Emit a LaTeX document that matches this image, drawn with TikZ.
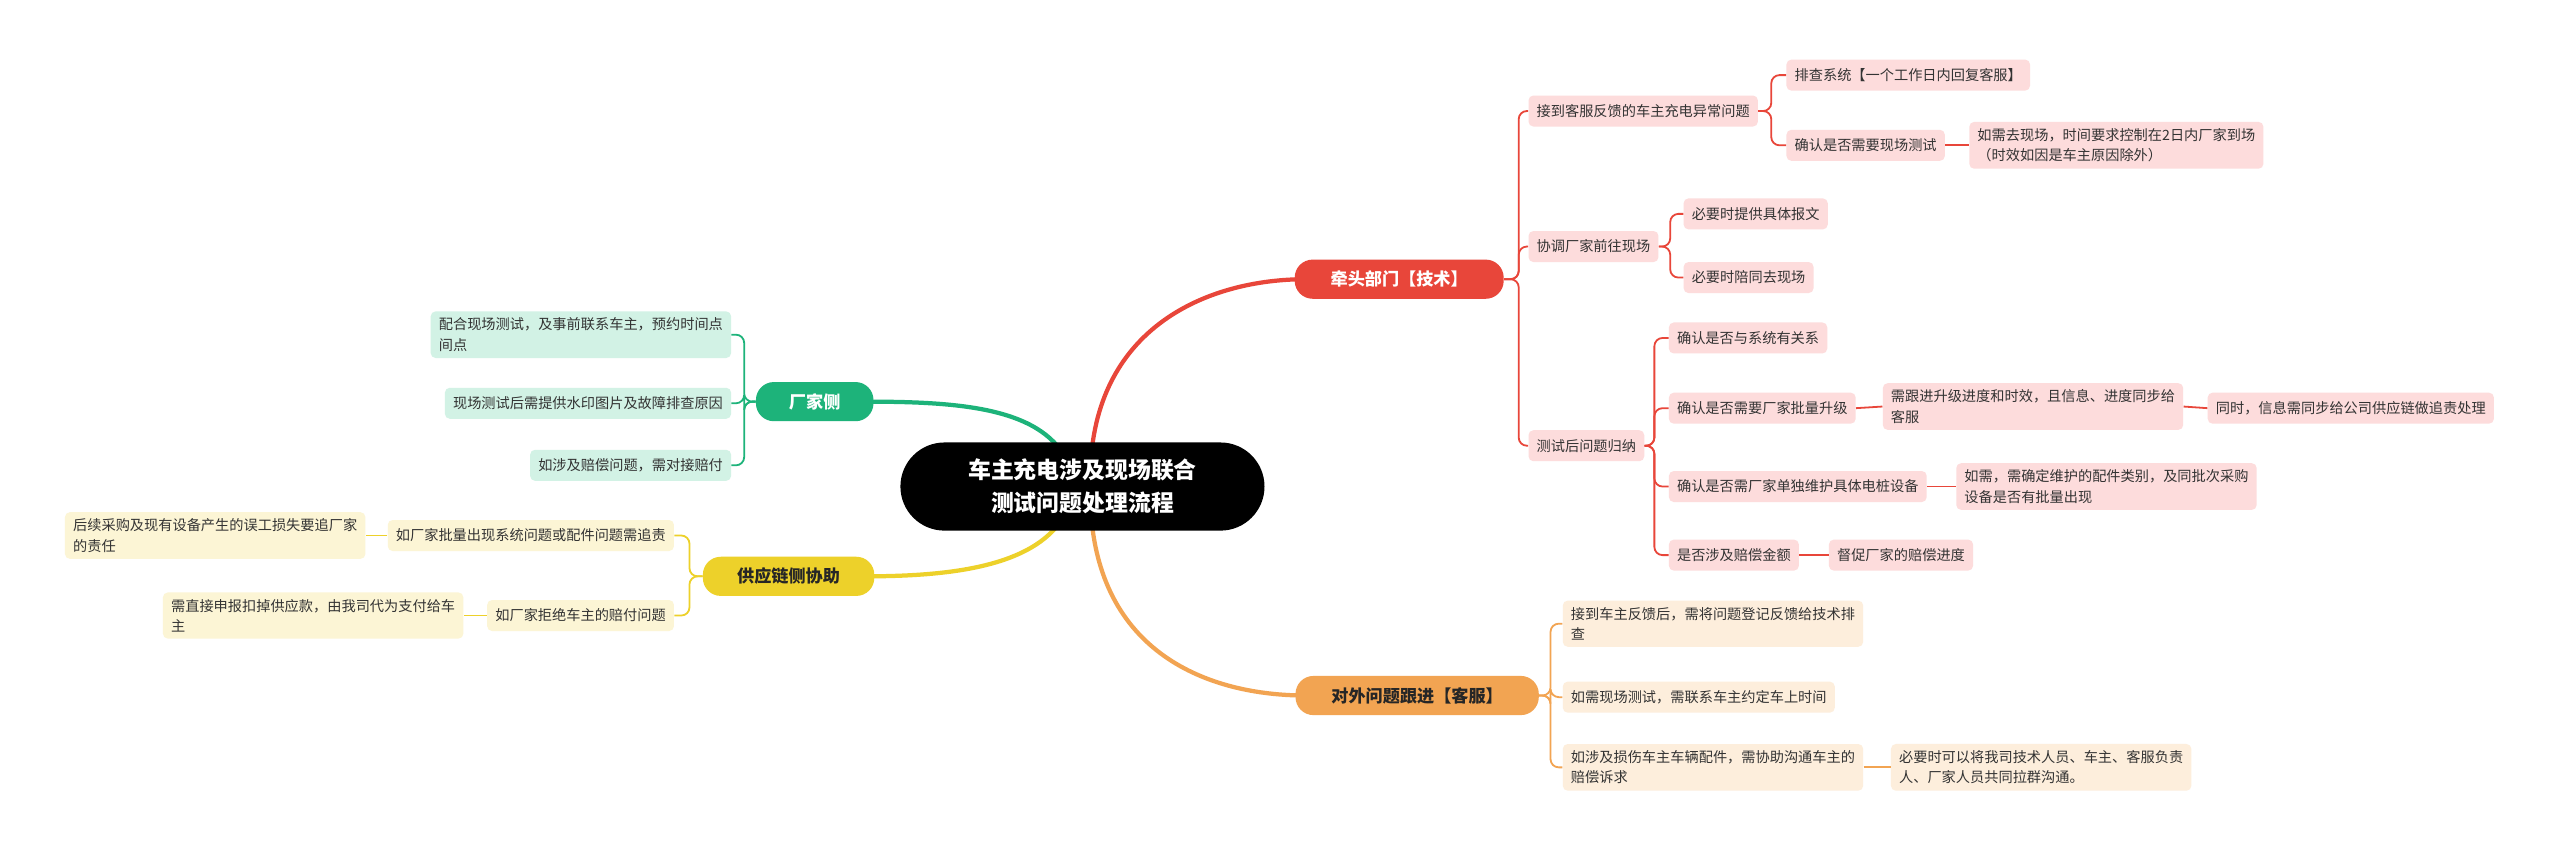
\documentclass[tikz,border=0pt]{standalone}
\usepackage{fontspec}
\setmainfont{Noto Sans CJK SC}
\begin{document}
\begin{tikzpicture}[x=1pt,y=-1pt,
 leaf/.style={rounded corners=3pt,inner xsep=5pt,inner ysep=4pt,minimum height=19pt,font=\fontsize{8.7}{12.5}\selectfont,text=black!80,align=left},
 rleaf/.style={leaf,fill=pr},
 oleaf/.style={leaf,fill=po},
 gleaf/.style={leaf,fill=pg},
 yleaf/.style={leaf,fill=py},
 main/.style={rounded corners=11pt,minimum height=24pt,inner xsep=12pt,font=\fontsize{10.5}{12}\bfseries\selectfont},
 rl/.style={draw=cr,line width=1.1pt,rounded corners=5pt},
 ol/.style={draw=co,line width=1.1pt,rounded corners=5pt},
 gl/.style={draw=cg,line width=1.1pt,rounded corners=5pt},
 yl/.style={draw=cy,line width=1.1pt,rounded corners=5pt}]
\definecolor{cr}{HTML}{E8463A}
\definecolor{co}{HTML}{F2A452}
\definecolor{cg}{HTML}{1DB37A}
\definecolor{cy}{HTML}{EDD12A}
\definecolor{pr}{HTML}{FDDCDC}
\definecolor{po}{HTML}{FDEEDC}
\definecolor{pg}{HTML}{D2F2E5}
\definecolor{py}{HTML}{FCF5D5}
\useasboundingbox[fill=white] (0,0) rectangle (1568,522.4);
% main connectors
\draw[cr,line width=2.6pt] (668,285) .. controls (672,200) and (740,171) .. (800,171);
\draw[cg,line width=2.6pt] (655,285) .. controls (640,250) and (590,246) .. (530,246);
\draw[cy,line width=2.6pt] (655,310) .. controls (640,345) and (590,353) .. (530,353);
\draw[co,line width=2.6pt] (668,310) .. controls (672,400) and (740,426) .. (800,426);
\node[fill=black,text=white,rounded corners=27pt,minimum width=223pt,minimum height=54pt,align=center,font=\fontsize{14}{20}\bfseries\selectfont] (root) at (663,298) {车主充电涉及现场联合\\测试问题处理流程};
\node[main,fill=cr,text=white,minimum width=128pt] (red) at (857,171) {牵头部门【技术】};
\node[main,fill=cg,text=white,minimum width=72pt] (grn) at (499,246) {厂家侧};
\node[main,fill=cy,text=black!85,minimum width=105pt] (yel) at (483,353) {供应链侧协助};
\node[main,fill=co,text=black!85,minimum width=149pt] (org) at (868,426) {对外问题跟进【客服】};
% red
\node[rleaf,anchor=west] (r1) at (936,68) {接到客服反馈的车主充电异常问题};
\node[rleaf,anchor=west] (r11) at (1094,46) {排查系统【一个工作日内回复客服】};
\node[rleaf,anchor=west] (r12) at (1094,89) {确认是否需要现场测试};
\node[rleaf,anchor=west] (r121) at (1206,89) {如需去现场，时间要求控制在2日内厂家到场\\（时效如因是车主原因除外）};
\node[rleaf,anchor=west] (r2) at (936,151) {协调厂家前往现场};
\node[rleaf,anchor=west] (r21) at (1031,131) {必要时提供具体报文};
\node[rleaf,anchor=west] (r22) at (1031,170) {必要时陪同去现场};
\node[rleaf,anchor=west] (r3) at (936,273) {测试后问题归纳};
\node[rleaf,anchor=west] (r31) at (1022,207) {确认是否与系统有关系};
\node[rleaf,anchor=west] (r32) at (1022,250) {确认是否需要厂家批量升级};
\node[rleaf,anchor=west] (r321) at (1153,249) {需跟进升级进度和时效，且信息、进度同步给\\客服};
\node[rleaf,anchor=west] (r3211) at (1352,250) {同时，信息需同步给公司供应链做追责处理};
\node[rleaf,anchor=west] (r33) at (1022,298) {确认是否需厂家单独维护具体电桩设备};
\node[rleaf,anchor=west] (r331) at (1198,298) {如需，需确定维护的配件类别，及同批次采购\\设备是否有批量出现};
\node[rleaf,anchor=west] (r34) at (1022,340) {是否涉及赔偿金额};
\node[rleaf,anchor=west] (r341) at (1120,340) {督促厂家的赔偿进度};
\foreach \c in {r1,r2,r3} \draw[rl] (red.east) -- ++(9,0) |- (\c.west);
\foreach \c in {r11,r12} \draw[rl] (r1.east) -- ++(8,0) |- (\c.west);
\draw[rl] (r12.east) -- (r121.west);
\foreach \c in {r21,r22} \draw[rl] (r2.east) -- ++(7,0) |- (\c.west);
\foreach \c in {r31,r32,r33,r34} \draw[rl] (r3.east) -- ++(6,0) |- (\c.west);
\draw[rl] (r32.east) -- (r321.west);
\draw[rl] (r321.east) -- (r3211.west);
\draw[rl] (r33.east) -- (r331.west);
\draw[rl] (r34.east) -- (r341.west);
% orange
\node[oleaf,anchor=west] (o1) at (957,382) {接到车主反馈后，需将问题登记反馈给技术排\\查};
\node[oleaf,anchor=west] (o2) at (957,427) {如需现场测试，需联系车主约定车上时间};
\node[oleaf,anchor=west] (o3) at (957,470) {如涉及损伤车主车辆配件，需协助沟通车主的\\赔偿诉求};
\node[oleaf,anchor=west] (o31) at (1158,470) {必要时可以将我司技术人员、车主、客服负责\\人、厂家人员共同拉群沟通。};
\foreach \c in {o1,o2,o3} \draw[ol] (org.east) -- ++(7,0) |- (\c.west);
\draw[ol] (o3.east) -- (o31.west);
% green
\node[gleaf,anchor=east] (g1) at (448,205) {配合现场测试，及事前联系车主，预约时间点\\间点};
\node[gleaf,anchor=east] (g2) at (448,247) {现场测试后需提供水印图片及故障排查原因};
\node[gleaf,anchor=east] (g3) at (448,285) {如涉及赔偿问题，需对接赔付};
\foreach \c in {g1,g2,g3} \draw[gl] (grn.west) -- ++(-7,0) |- (\c.east);
% yellow
\node[yleaf,anchor=east] (y1) at (413,328) {如厂家批量出现系统问题或配件问题需追责};
\node[yleaf,anchor=east] (y11) at (224,328) {后续采购及现有设备产生的误工损失要追厂家\\的责任};
\node[yleaf,anchor=east] (y2) at (413,377) {如厂家拒绝车主的赔付问题};
\node[yleaf,anchor=east] (y21) at (284,377) {需直接申报扣掉供应款，由我司代为支付给车\\主};
\foreach \c in {y1,y2} \draw[yl] (yel.west) -- ++(-8,0) |- (\c.east);
\draw[yl] (y1.west) -- (y11.east);
\draw[yl] (y2.west) -- (y21.east);
\end{tikzpicture}
\end{document}
